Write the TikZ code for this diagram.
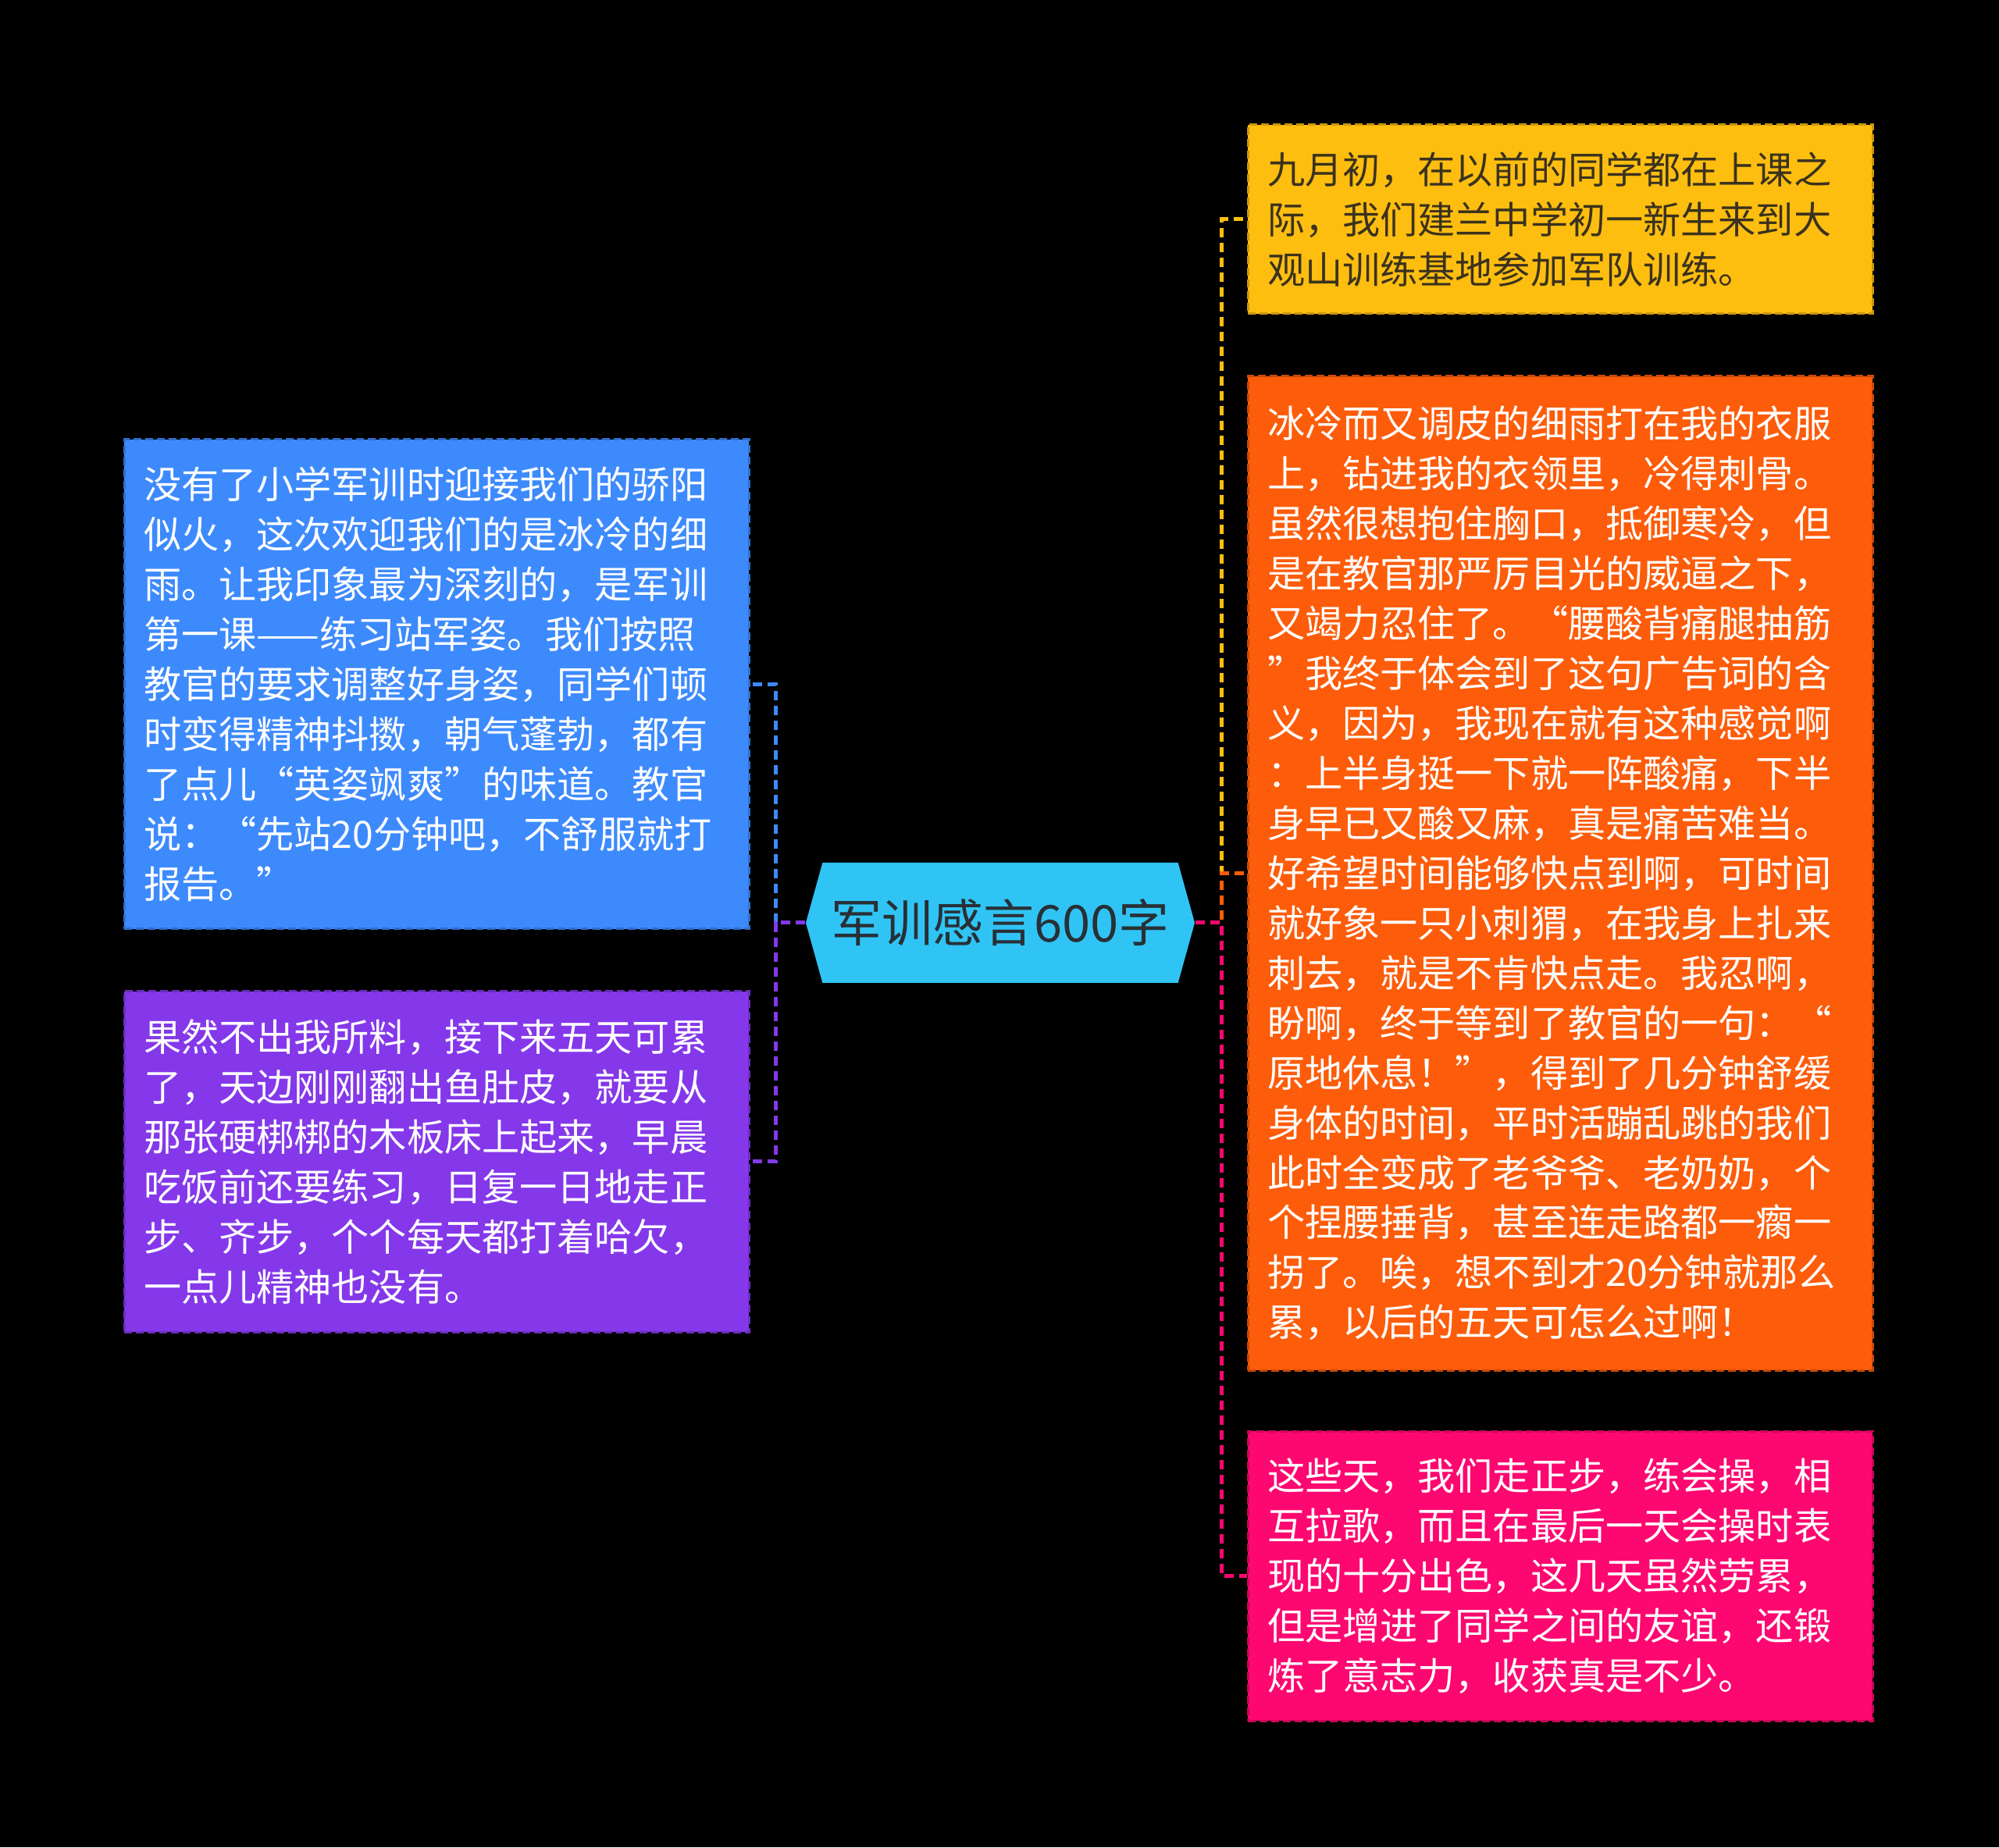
\documentclass[tikz,border=0pt]{standalone}
\usepackage{fontspec}
\setmainfont{Noto Sans CJK SC}
\usetikzlibrary{shapes.symbols}

\definecolor{titlefill}{RGB}{48,196,245}
\definecolor{titletext}{RGB}{40,48,54}
\definecolor{yellowfill}{RGB}{254,190,16}
\definecolor{yellowtext}{RGB}{58,50,30}
\definecolor{orangefill}{RGB}{253,92,10}
\definecolor{pinkfill}{RGB}{253,8,112}
\definecolor{bluefill}{RGB}{61,138,253}
\definecolor{purplefill}{RGB}{132,56,234}

\begin{document}
\begin{tikzpicture}[
	topic/.style={rectangle, fill=#1, draw=#1!80!black, line width=0.03cm,
		dash pattern=on 0.1cm off 0.05cm, text width=7.5cm, inner xsep=0.25cm,
		align=left, text=white, font=\fontsize{13.7pt}{18.2pt}\selectfont},
	link/.style={draw=#1, line width=0.05cm, dash pattern=on 0.12cm off 0.07cm}
	]
	% background
	\fill[black] (0,0) rectangle (25.6,23.66);
	\useasboundingbox (0,0) rectangle (25.6,23.66);

	% centre
	\node[signal, signal to=west and east, signal pointer angle=149,
		fill=titlefill, inner sep=0, minimum width=4.98cm, minimum height=1.54cm,
		text=titletext, font=\fontsize{18.5pt}{22pt}\selectfont]
		(title) at (12.81,11.84) {军训感言600字};

	% right
	\node[topic=yellowfill, text=yellowtext, minimum height=2.42cm] (early) at (19.98,20.85)
		{九月初，在以前的同学都在上课之\\
		际，我们建兰中学初一新生来到大\\
		观山训练基地参加军队训练。};
	\node[topic=orangefill, minimum height=12.73cm] (rain) at (19.98,12.475)
		{冰冷而又调皮的细雨打在我的衣服\\
		上，钻进我的衣领里，冷得刺骨。\\
		虽然很想抱住胸口，抵御寒冷，但\\
		是在教官那严厉目光的威逼之下，\\
		又竭力忍住了。“腰酸背痛腿抽筋\\
		”我终于体会到了这句广告词的含\\
		义，因为，我现在就有这种感觉啊\\
		：上半身挺一下就一阵酸痛，下半\\
		身早已又酸又麻，真是痛苦难当。\\
		好希望时间能够快点到啊，可时间\\
		就好象一只小刺猬，在我身上扎来\\
		刺去，就是不肯快点走。我忍啊，\\
		盼啊，终于等到了教官的一句：“\\
		原地休息！”，得到了几分钟舒缓\\
		身体的时间，平时活蹦乱跳的我们\\
		此时全变成了老爷爷、老奶奶，个\\
		个捏腰捶背，甚至连走路都一瘸一\\
		拐了。唉，想不到才20分钟就那么\\
		累，以后的五天可怎么过啊！};
	\node[topic=pinkfill, minimum height=3.71cm] (gain) at (19.98,3.475)
		{这些天，我们走正步，练会操，相\\
		互拉歌，而且在最后一天会操时表\\
		现的十分出色，这几天虽然劳累，\\
		但是增进了同学之间的友谊，还锻\\
		炼了意志力，收获真是不少。};

	% left
	\node[topic=bluefill, minimum height=6.27cm] (stand) at (5.59,14.895)
		{没有了小学军训时迎接我们的骄阳\\
		似火，这次欢迎我们的是冰冷的细\\
		雨。让我印象最为深刻的，是军训\\
		第一课——练习站军姿。我们按照\\
		教官的要求调整好身姿，同学们顿\\
		时变得精神抖擞，朝气蓬勃，都有\\
		了点儿“英姿飒爽”的味道。教官\\
		说：“先站20分钟吧，不舒服就打\\
		报告。”};
	\node[topic=purplefill, minimum height=4.36cm] (tired) at (5.59,8.78)
		{果然不出我所料，接下来五天可累\\
		了，天边刚刚翻出鱼肚皮，就要从\\
		那张硬梆梆的木板床上起来，早晨\\
		吃饭前还要练习，日复一日地走正\\
		步、齐步，个个每天都打着哈欠，\\
		一点儿精神也没有。};

	% links
	\draw[link=yellowfill] (title.east) -- ++(0.34,0) |- (early.west);
	\draw[link=orangefill] (title.east) -- ++(0.34,0) |- (rain.west);
	\draw[link=pinkfill] (title.east) -- ++(0.34,0) |- (gain.west);
	\draw[link=bluefill] (title.west) -- ++(-0.38,0) |- (stand.east);
	\draw[link=purplefill] (title.west) -- ++(-0.38,0) |- (tired.east);
\end{tikzpicture}
\end{document}
